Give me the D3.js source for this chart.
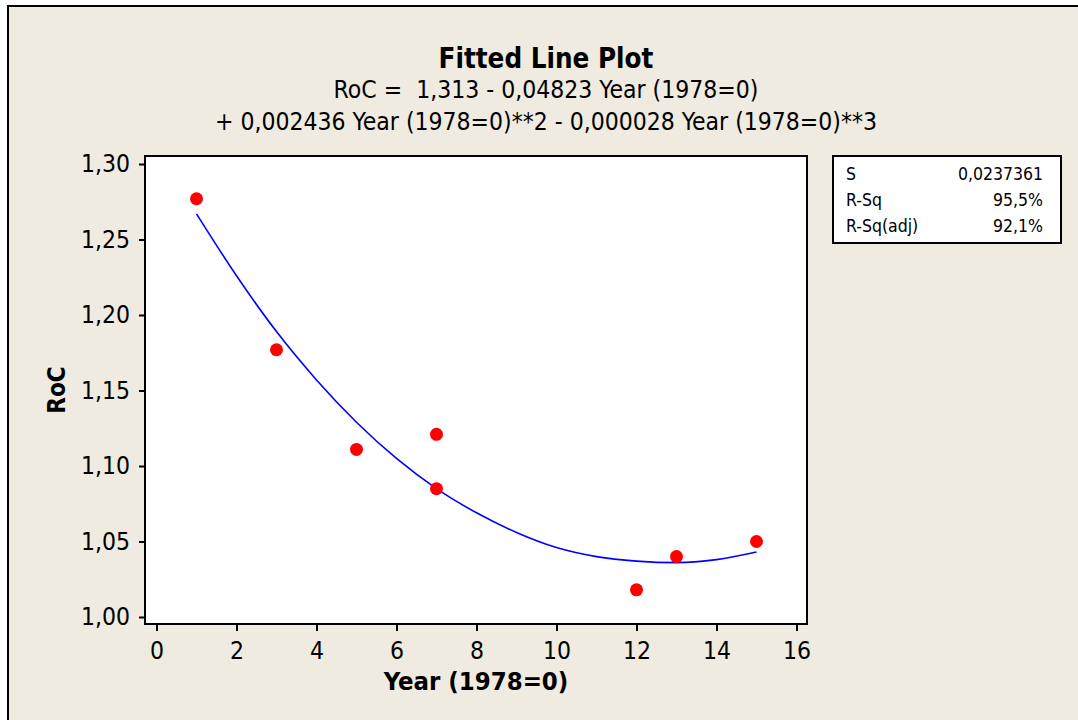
<!DOCTYPE html>
<html>
<head>
<meta charset="utf-8">
<script src="https://cdn.jsdelivr.net/npm/d3@7"></script>
<style>
  body { margin: 0; background: #fff; }
  text { font-family: "DejaVu Sans Condensed", "Noto Sans", sans-serif; fill: #000; }
</style>
</head>
<body>
<script>
// observed data (Year since 1978, RoC)
var years = [1, 3, 5, 7, 7, 12, 13, 15];
var roc = [1.277, 1.177, 1.111, 1.121, 1.085, 1.018, 1.040, 1.050];

// fitted curve
var fitYears = [1, 2, 3, 4, 5, 6, 7, 8, 9, 10, 11, 12, 13, 14, 15];
var fitRoc = [1.267, 1.226, 1.189, 1.157, 1.129, 1.105, 1.085, 1.069, 1.056, 1.046, 1.040, 1.037, 1.036, 1.038, 1.043];

var xTicks = [0, 2, 4, 6, 8, 10, 12, 14, 16];
var yTicks = [1.00, 1.05, 1.10, 1.15, 1.20, 1.25, 1.30];

var statNames = ["S", "R-Sq", "R-Sq(adj)"];
var statValues = ["0,0237361", "95,5%", "92,1%"];

var titleText = "Fitted Line Plot";
var eqLines = ["RoC =  1,313 - 0,04823 Year (1978=0)",
               "+ 0,002436 Year (1978=0)**2 - 0,000028 Year (1978=0)**3"];

var W = 1078, H = 720;
var plot = {left: 145, right: 807, top: 156, bottom: 624};

var locale = d3.formatLocale({decimal: ",", thousands: ".", grouping: [3], currency: ["", ""]});
var fmt2 = locale.format(".2f");

var svg = d3.select("body").append("svg")
    .attr("width", W)
    .attr("height", H);

// outer frame
svg.append("rect")
    .attr("x", 8).attr("y", 6)
    .attr("width", W + 20).attr("height", H + 20)
    .attr("fill", "#efebe1")
    .attr("stroke", "#000")
    .attr("stroke-width", 2);

var x = d3.scaleLinear().domain([0, 16]).range([156.5, 796.5]);
var y = d3.scaleLinear().domain([1.0, 1.3]).range([617, 164]);

// plot area
svg.append("rect")
    .attr("x", plot.left).attr("y", plot.top)
    .attr("width", plot.right - plot.left)
    .attr("height", plot.bottom - plot.top)
    .attr("fill", "#fff");

// axes
var yAxis = svg.append("g")
    .attr("transform", "translate(" + plot.left + ",0)")
    .call(d3.axisLeft(y).tickValues(yTicks).tickFormat(fmt2).tickSize(6).tickPadding(9));
yAxis.select(".domain").remove();
yAxis.selectAll("line").attr("stroke", "#000").attr("stroke-width", 2);
yAxis.selectAll("text").style("font-size", "24.5px").attr("fill", "#000");

var xAxis = svg.append("g")
    .attr("transform", "translate(0," + plot.bottom + ")")
    .call(d3.axisBottom(x).tickValues(xTicks).tickFormat(d3.format("d")).tickSize(7).tickPadding(11));
xAxis.select(".domain").remove();
xAxis.selectAll("line").attr("stroke", "#000").attr("stroke-width", 2);
xAxis.selectAll("text").style("font-size", "24.5px").attr("fill", "#000");

// clip for data
svg.append("clipPath").attr("id", "clip")
  .append("rect")
    .attr("x", plot.left).attr("y", plot.top)
    .attr("width", plot.right - plot.left)
    .attr("height", plot.bottom - plot.top);

var g = svg.append("g").attr("clip-path", "url(#clip)");

var fitData = fitYears.map(function(d, i) { return {x: d, y: fitRoc[i]}; });
var line = d3.line()
    .x(function(d) { return x(d.x); })
    .y(function(d) { return y(d.y); })
    .curve(d3.curveMonotoneX);

g.append("path")
    .datum(fitData)
    .attr("d", line)
    .attr("fill", "none")
    .attr("stroke", "#0000ff")
    .attr("stroke-width", 1.6);

g.selectAll(".dot")
    .data(years.map(function(d, i) { return {x: d, y: roc[i]}; }))
    .enter()
    .append("circle")
    .attr("class", "dot")
    .attr("cx", function(d) { return x(d.x); })
    .attr("cy", function(d) { return y(d.y); })
    .attr("r", 6.5)
    .attr("fill", "#ff0000");

// plot border
svg.append("rect")
    .attr("x", plot.left).attr("y", plot.top)
    .attr("width", plot.right - plot.left)
    .attr("height", plot.bottom - plot.top)
    .attr("fill", "none")
    .attr("stroke", "#000")
    .attr("stroke-width", 2);

// titles
var cx = 546;
svg.append("text")
    .attr("x", cx).attr("y", 68)
    .attr("text-anchor", "middle")
    .style("font-size", "27.5px")
    .style("font-weight", "bold")
    .text(titleText);

svg.selectAll(".eq")
    .data(eqLines)
    .enter()
    .append("text")
    .attr("class", "eq")
    .attr("x", cx)
    .attr("y", function(d, i) { return 98 + i * 32; })
    .attr("text-anchor", "middle")
    .style("font-size", "24.5px")
    .style("white-space", "pre")
    .text(function(d) { return d; });

// axis titles
svg.append("text")
    .attr("x", (plot.left + plot.right) / 2).attr("y", 690)
    .attr("text-anchor", "middle")
    .style("font-size", "25.5px")
    .style("font-weight", "bold")
    .text("Year (1978=0)");

svg.append("text")
    .attr("transform", "translate(65," + (plot.top + plot.bottom) / 2 + ")rotate(-90)")
    .attr("text-anchor", "middle")
    .style("font-size", "24px")
    .style("font-weight", "bold")
    .text("RoC");

// stats box
svg.append("rect")
    .attr("x", 833).attr("y", 156)
    .attr("width", 228).attr("height", 87)
    .attr("fill", "#fff")
    .attr("stroke", "#000")
    .attr("stroke-width", 2);

svg.selectAll(".sname")
    .data(statNames)
    .enter()
    .append("text")
    .attr("x", 846)
    .attr("y", function(d, i) { return 180 + i * 26; })
    .style("font-size", "17.5px")
    .text(function(d) { return d; });

svg.selectAll(".sval")
    .data(statValues)
    .enter()
    .append("text")
    .attr("x", 1043)
    .attr("y", function(d, i) { return 180 + i * 26; })
    .attr("text-anchor", "end")
    .style("font-size", "17.5px")
    .text(function(d) { return d; });
</script>
</body>
</html>
